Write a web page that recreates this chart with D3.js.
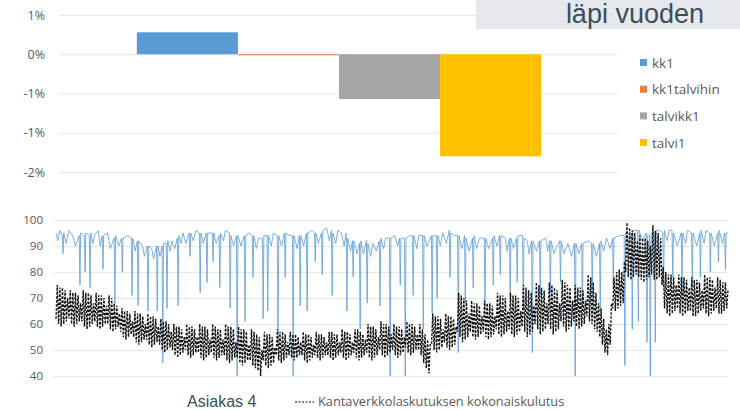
<!DOCTYPE html>
<html lang="fi">
<head>
<meta charset="UTF-8">
<title>läpi vuoden</title>
<style>
  body { margin: 0; background: #fff; }
  svg text { font-family: 'Open Sans', sans-serif; }
</style>
</head>
<body>
<svg id="chart" width="740" height="410"></svg>
<script src="https://d3js.org/d3.v7.min.js"></script>
<script>
// --- top bar chart data ---
const series = ["kk1", "kk1talvihin", "talvikk1", "talvi1"];
const seriesValues = [0.0028, -0.0001, -0.0057, -0.0130];
const seriesColors = ["#5b9bd5", "#ed7d31", "#a5a5a5", "#ffc000"];
const topTicks = [0.005, 0, -0.005, -0.01, -0.015];
const topTickLabels = ["1%", "0%", "-1%", "-1%", "-2%"];

// --- bottom line chart data ---
const bottomTicks = [40, 50, 60, 70, 80, 90, 100];

// Asiakas 4: [day of year, value]
const asiakas4 = [[0,95],[1,92],[2,96],[3.4,94],[3.8,87],[4.2,95],[5.5,91],[7,96],[9,94],[10.5,90],[12.6,94],[13,75],[13.4,95],[15.4,94],[15.8,80],[16.2,95],[18.1,94],[18.5,74],[18.9,95],[20,91],[21,94],[23,96],[24,90],[25.1,94],[25.5,81],[25.9,94],[28,95],[29.5,89],[31.6,93],[32,68],[32.4,94],[34,90],[35.6,93],[36,80],[36.4,93],[39,94],[40.9,93],[41.3,71],[41.7,93],[43,88],[44.2,92],[44.6,67],[45,92],[47,90],[48,86],[49.6,90],[50,65],[50.4,90],[52,89],[53,85],[54.6,90],[55,65],[55.4,90],[56.5,86],[57.6,90],[58,45],[58.4,91],[59.9,91],[60.3,66],[60.7,92],[62,88],[63,92],[64.5,89],[65.9,93],[66.3,67],[66.7,94],[68,91],[69,95],[70.5,91],[72.4,95],[72.8,86],[73.2,95],[74.5,92],[76,96],[77.9,95],[78.3,72],[78.7,95],[80,91],[81.6,95],[82,76],[82.4,95],[84.9,95],[85.3,84],[85.7,95],[87,91],[88.6,94],[89,74],[89.4,95],[91,92],[92,96],[94.2,95],[94.6,66],[95,94],[96.5,90],[98,94],[98.4,40],[98.8,94],[100.5,90],[102.3,94],[102.7,61],[103.1,94],[105,95],[106.6,94],[107,78],[107.4,94],[108.8,89],[110,93],[112.1,93],[112.5,62],[112.9,94],[114.6,94],[115,65],[115.4,94],[117,90],[118,95],[120.2,94],[120.6,52],[121,94],[122.5,90],[124.1,95],[124.5,78],[124.9,95],[127,94],[128.4,94],[128.8,40],[129.2,94],[131,89],[132.2,94],[132.6,67],[133,94],[134.5,90],[136,95],[136.4,65],[136.8,95],[139,96],[140.4,95],[140.8,84],[141.2,95],[142.5,91],[144.2,95],[144.6,79],[145,96],[147,97],[148.5,92],[149.6,96],[150,71],[150.4,95],[152,91],[153,96],[155,95],[156.5,90],[157.6,95],[158,65],[158.4,93],[160,88],[161,92],[161.4,78],[161.8,92],[163.5,87],[164.8,91],[165.2,58],[165.6,92],[167,87],[168.6,92],[169,68],[169.4,91],[171,86],[172,91],[174,88],[175.6,92],[176,67],[176.4,93],[178,89],[179,93],[181.1,93],[181.5,40],[181.9,93],[184,94],[185.5,90],[186.6,93],[187,75],[187.4,93],[189.3,93],[189.7,40],[190.1,93],[192,94],[193.6,94],[194,71],[194.4,94],[196,89],[197,94],[199.1,94],[199.5,58],[199.9,94],[201.5,90],[203.9,94],[204.3,64],[204.7,94],[206.6,94],[207,70],[207.4,94],[208.8,90],[210,95],[212,91],[213.6,96],[214,78],[214.4,95],[216,94],[218.1,94],[218.5,49],[218.9,94],[220.5,89],[221.9,94],[222.3,68],[222.7,93],[224.5,88],[226.2,93],[226.6,74],[227,94],[228.5,89],[230,93],[232.6,93],[233,66],[233.4,93],[235,89],[237.1,93],[237.5,75],[237.9,94],[239.5,90],[240.9,94],[241.3,79],[241.7,94],[244,93],[245,88],[246.3,93],[246.7,71],[247.1,93],[248.5,89],[250.1,93],[250.5,76],[250.9,94],[253.4,94],[253.8,66],[254.2,93],[256,92],[257,87],[258.3,92],[258.7,49],[259.1,92],[261,88],[262.6,92],[263,71],[263.4,92],[266,93],[267,88],[268.1,92],[268.5,72],[268.9,92],[270.5,87],[272,90],[273.6,92],[274,76],[274.4,92],[276,87],[278,91],[280,86],[281.6,91],[282,40],[282.4,91],[284,87],[285.5,91],[285.9,67],[286.3,91],[289,92],[290.9,91],[291.3,71],[291.7,91],[293.5,86],[295.2,91],[295.6,65],[296,92],[297.5,88],[299,93],[301,89],[302.3,93],[302.7,74],[303.1,93],[306,94],[308.6,94],[309,44],[309.4,95],[311,91],[312.6,95],[313,58],[313.4,96],[315.9,96],[316.3,61],[316.7,96],[318.5,92],[320.6,95],[321,53],[321.4,94],[322.4,94],[322.8,40],[323.2,95],[325.1,95],[325.5,53],[325.9,96],[328,96],[329.6,95],[330,74],[330.4,96],[332,92],[333,96],[334.6,96],[335,78],[335.4,95],[337.5,90],[339.6,95],[340,71],[340.4,95],[342,91],[343,96],[345.2,95],[345.6,74],[346,95],[348,90],[349.6,95],[350,78],[350.4,96],[352,91],[353,96],[355,95],[355.4,80],[355.8,95],[357.5,90],[359.4,95],[359.8,84],[360.2,96],[362,91],[363.2,95],[363.6,81],[364,95],[365,95]];

// Kantaverkkolaskutuksen kokonaiskulutus, evenly spaced over the year (10 samples per week)
const kokonaiskulutus = [
  62,75,60,74,59,74,60,73,61,70,  62,73,60,72,59,72,60,71,61,68,
  61,73,59,72,58,72,59,71,60,68,  61,72,59,71,58,71,59,70,60,67,
  60,71,58,70,57,68,58,67,59,64,  57,66,55,65,54,65,55,64,56,61,
  55,65,53,64,52,64,53,63,54,60,  54,64,52,63,51,63,52,62,53,59,
  52,62,50,61,49,61,50,60,51,57,  50,60,48,59,47,59,48,58,49,55,
  50,60,48,59,47,59,48,58,49,55,  49,60,47,59,46,59,47,58,48,54,
  49,60,47,59,46,58,47,58,48,54,  48,60,46,59,45,59,46,58,47,53,
  47,59,45,58,44,58,45,57,46,52,  46,58,44,57,43,56,42,55,40,50,
  46,57,44,56,43,56,44,55,45,51,  48,58,46,57,45,57,46,56,47,53,
  48,57,47,56,46,56,47,55,48,53,  48,57,46,56,45,56,46,55,47,52,
  48,57,47,56,46,56,47,55,48,53,  48,57,47,57,46,56,47,56,48,53,
  49,58,47,57,46,57,47,56,48,53,  49,58,47,58,46,57,47,56,48,54,
  49,60,47,59,46,59,47,58,48,55,  50,61,48,60,47,60,48,59,49,56,
  50,60,48,59,47,59,48,58,49,55,  51,61,49,60,48,60,49,59,50,56,
  50,60,48,58,45,56,43,54,41,52,  52,64,50,63,49,63,50,62,51,58,
  53,64,51,63,50,63,51,62,52,59,  57,72,55,71,53,70,54,69,55,64,
  57,69,55,68,54,68,55,67,56,63,  57,69,55,68,54,68,55,67,56,63,
  58,72,56,71,55,71,56,70,57,65,  58,72,56,71,55,71,56,70,57,65,
  59,75,57,74,55,73,56,72,57,67,  60,76,58,75,56,74,57,73,58,68,
  60,76,58,75,56,74,57,73,58,68,  61,77,59,76,57,75,58,74,59,69,
  61,75,59,74,58,74,59,73,60,69,  63,79,61,78,60,76,58,72,57,68,
  55,66,52,62,49,58,48,60,52,68,  66,78,65,80,66,81,67,80,68,84,
  80,99,78,97,77,96,78,95,79,92,  78,94,77,93,76,93,77,92,78,90,
  79,98,77,96,77,95,78,93,75,82,  66,80,64,79,63,79,64,78,65,75,
  66,79,64,78,63,78,64,77,65,74,  65,78,63,77,63,77,64,76,65,73,
  66,79,64,78,63,78,64,77,65,74,  66,78,64,77,64,76,65,76,66,73
];

const svg = d3.select("#chart");
const gridColor = "#e6e6e6";
const labelColor = "#595959";

// ---------------- top: bar chart ----------------
const topLeft = 60, topRight = 618;
const yTop = d3.scaleLinear().domain([-0.015, 0.005]).range([172, 15]);
const xGroup = d3.scaleBand().domain(["all"]).range([topLeft, topRight])
  .paddingInner(0).paddingOuter(0.19);
const xBar = d3.scaleBand().domain(series).range([0, xGroup.bandwidth()]);

const topAxis = svg.append("g")
  .attr("transform", `translate(${topLeft},0)`)
  .call(d3.axisLeft(yTop).tickValues(topTicks)
    .tickSize(-(topRight - topLeft)).tickPadding(15)
    .tickFormat((d, i) => topTickLabels[i]));
topAxis.select(".domain").remove();
topAxis.selectAll("line").attr("stroke", gridColor);
topAxis.selectAll("text").attr("fill", labelColor).style("font-size", "12.5px");

svg.append("g").selectAll("rect")
  .data(series)
  .join("rect")
    .attr("x", d => xGroup("all") + xBar(d))
    .attr("width", xBar.bandwidth())
    .attr("y", (d, i) => yTop(Math.max(0, seriesValues[i])))
    .attr("height", (d, i) => Math.max(1, Math.abs(yTop(seriesValues[i]) - yTop(0))))
    .attr("fill", (d, i) => seriesColors[i]);

// legend
const legend = svg.append("g").attr("transform", "translate(640,63)");
series.forEach((s, i) => {
  const g = legend.append("g").attr("transform", `translate(0,${i * 26.7})`);
  g.append("rect").attr("x", 0).attr("y", -4).attr("width", 7).attr("height", 7)
    .attr("fill", seriesColors[i]);
  g.append("text").attr("x", 12).attr("y", 0).attr("dy", "0.35em")
    .attr("fill", labelColor).style("font-size", "13.5px").text(s);
});

// title box
svg.append("rect").attr("x", 476).attr("y", 0).attr("width", 264).attr("height", 29)
  .attr("fill", "#e5e9ed");
svg.append("text").attr("x", 704).attr("y", 23).attr("text-anchor", "end")
  .style("font-family", "'Liberation Sans', Arial, sans-serif").style("font-size", "27px")
  .attr("fill", "#3b4e5c").text("läpi vuoden");

// ---------------- bottom: line chart ----------------
const botLeft = 54, botRight = 728;
const yBot = d3.scaleLinear().domain([40, 100]).range([376, 220]);
const xDay = d3.scaleLinear().domain([0, 365]).range([56, 728]);
const xIdx = d3.scaleLinear().domain([0, kokonaiskulutus.length - 1]).range([56, 728]);

const botAxis = svg.append("g")
  .attr("transform", `translate(${botLeft},0)`)
  .call(d3.axisLeft(yBot).tickValues(bottomTicks)
    .tickSize(-(botRight - botLeft)).tickPadding(11));
botAxis.select(".domain").remove();
botAxis.selectAll("line").attr("stroke", gridColor);
botAxis.selectAll("text").attr("fill", labelColor).style("font-size", "11.5px");

svg.append("path")
  .datum(asiakas4)
  .attr("fill", "none")
  .attr("stroke", "#5b9bd5")
  .attr("stroke-opacity", 0.8)
  .attr("stroke-width", 1)
  .attr("d", d3.line().x(d => xDay(d[0])).y(d => yBot(d[1])));

svg.append("path")
  .datum(kokonaiskulutus)
  .attr("fill", "none")
  .attr("stroke", "#111")
  .attr("stroke-width", 1.4)
  .attr("stroke-dasharray", "2.5,1.5")
  .attr("d", d3.line().x((d, i) => xIdx(i)).y(d => yBot(d)));

// bottom legend
svg.append("text").attr("x", 187).attr("y", 407)
  .style("font-family", "'Liberation Sans', Arial, sans-serif").style("font-size", "16px")
  .attr("fill", "#3b4e5c").text("Asiakas 4");
svg.append("line").attr("x1", 295).attr("x2", 314).attr("y1", 402).attr("y2", 402)
  .attr("stroke", "#595959").attr("stroke-width", 1.3).attr("stroke-dasharray", "2,1.5");
svg.append("text").attr("x", 318).attr("y", 402).attr("dy", "0.35em")
  .attr("fill", labelColor).style("font-size", "12.8px")
  .text("Kantaverkkolaskutuksen kokonaiskulutus");
</script>
</body>
</html>
